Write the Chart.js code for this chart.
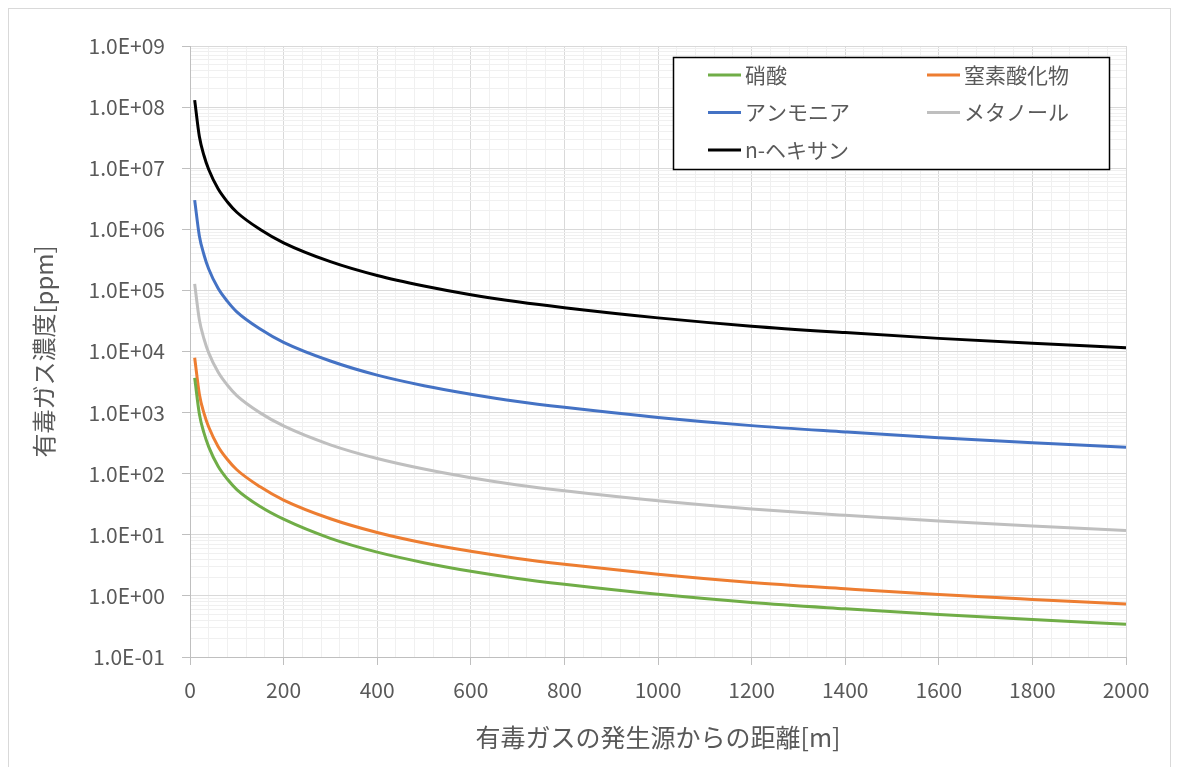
<!DOCTYPE html>
<html>
<head>
<meta charset="utf-8">
<script src="https://cdn.jsdelivr.net/npm/chart.js@4.4.0/dist/chart.umd.min.js"></script>
<style>
  html, body { margin: 0; padding: 0; background: #fff; }
  #main { width: 1179px; height: 767px; position: relative; }
</style>
</head>
<body>
<div id="main"><canvas id="myChart" width="1179" height="767"></canvas></div>
<script>
// distance from source [m]
var distance = [10, 20, 30, 40, 60, 80, 100, 150, 200, 300, 400, 500, 600, 700, 800, 1000, 1200, 1400, 1600, 1800, 2000];

// concentrations [ppm]
var nitricAcid = [3700, 950, 460, 275, 132, 81, 55, 29, 18, 8.75, 5.2, 3.5, 2.53, 1.93, 1.55, 1.06, 0.78, 0.615, 0.495, 0.41, 0.345];
var nitrogenOx = [7900, 2000, 970, 580, 280, 171, 116, 61, 37, 18.3, 10.9, 7.33, 5.36, 4.1, 3.3, 2.27, 1.66, 1.31, 1.05, 0.875, 0.74];
var ammonia    = [3.0e6, 7.8e5, 3.8e5, 2.24e5, 1.08e5, 6.6e4, 4.45e4, 2.33e4, 1.41e4, 6980, 4100, 2755, 2000, 1520, 1220, 835, 612, 482, 386, 320, 271];
var methanol   = [1.28e5, 3.3e4, 1.6e4, 9500, 4600, 2800, 1900, 990, 605, 297, 177, 119, 86, 65.5, 52.5, 36, 26.5, 20.8, 16.8, 13.9, 11.8];
var hexane     = [1.3e8, 3.3e7, 1.6e7, 9.5e6, 4.6e6, 2.8e6, 1.9e6, 9.9e5, 6.0e5, 2.95e5, 1.75e5, 1.18e5, 8.5e4, 6.5e4, 5.2e4, 3.55e4, 2.6e4, 2.04e4, 1.64e4, 1.36e4, 1.15e4];

var seriesNames  = ['硝酸', '窒素酸化物', 'アンモニア', 'メタノール', 'n-ヘキサン'];
var seriesColors = ['#70ad47', '#ed7d31', '#4472c4', '#bfbfbf', '#000000'];
var seriesValues = [nitricAcid, nitrogenOx, ammonia, methanol, hexane];

var xTickLabels = [0, 200, 400, 600, 800, 1000, 1200, 1400, 1600, 1800, 2000];
var xMinorStep = 40;
var yTickLabels = ['1.0E-01', '1.0E+00', '1.0E+01', '1.0E+02', '1.0E+03', '1.0E+04', '1.0E+05', '1.0E+06', '1.0E+07', '1.0E+08', '1.0E+09'];

var xTitle = '有毒ガスの発生源からの距離[m]';
var yTitle = '有毒ガス濃度[ppm]';

var FONT = '"Noto Sans CJK JP", "Noto Sans", sans-serif';
var TEXT = '#595959';

function isDecade(v) {
    var e = Math.log10(v);
    return Math.abs(e - Math.round(e)) < 1e-9;
}

var datasets = seriesNames.map(function(name, i) {
    return {
        label: name,
        data: distance.map(function(d, j) { return {x: d, y: seriesValues[i][j]}; }),
        borderColor: seriesColors[i],
        backgroundColor: seriesColors[i],
        borderWidth: 3,
        pointRadius: 0,
        fill: false,
        cubicInterpolationMode: 'monotone'
    };
});

// legend box + outer frame
var boxLegend = {
    id: 'boxLegend',
    beforeDraw: function(chart) {
        var c = chart.ctx;
        c.save();
        c.fillStyle = '#fff';
        c.fillRect(0, 0, chart.width, chart.height);
        c.strokeStyle = '#d9d9d9';
        c.lineWidth = 1;
        c.strokeRect(8.5, 8.5, 1162, 800);
        c.restore();
    },
    afterDraw: function(chart) {
        var c = chart.ctx, ca = chart.chartArea;
        var bx = ca.left + 483, by = ca.top + 11, bw = 436, bh = 112;
        c.save();
        c.fillStyle = '#fff';
        c.fillRect(bx, by, bw, bh);
        c.strokeStyle = '#000';
        c.lineWidth = 1.5;
        c.strokeRect(bx + 0.5, by + 0.5, bw, bh);
        c.font = '21px ' + FONT;
        c.textBaseline = 'middle';
        c.fillStyle = TEXT;
        chart.data.datasets.forEach(function(ds, i) {
            var col = i % 2, row = Math.floor(i / 2);
            var lx = bx + 35 + col * 219;
            var ly = by + 18 + row * 37.5;
            c.strokeStyle = ds.borderColor;
            c.lineWidth = 3;
            c.beginPath();
            c.moveTo(lx, ly);
            c.lineTo(lx + 33, ly);
            c.stroke();
            c.fillText(ds.label, lx + 37, ly);
        });
        c.restore();
    }
};

var ctx = document.getElementById('myChart');
var myChart = new Chart(ctx, {
    type: 'line',
    data: { datasets: datasets },
    plugins: [boxLegend],
    options: {
        responsive: false,
        animation: false,
        devicePixelRatio: 1,
        layout: { padding: { left: 0, top: 46, right: 53, bottom: 0 } },
        plugins: { legend: { display: false }, tooltip: { enabled: false } },
        scales: {
            x: {
                type: 'linear',
                min: 0,
                max: 2000,
                afterBuildTicks: function(scale) {
                    var t = [];
                    for (var v = 0; v <= 2000; v += xMinorStep) t.push({value: v});
                    scale.ticks = t;
                },
                afterFit: function(scale) { scale.height = 110; },
                ticks: {
                    autoSkip: false,
                    maxRotation: 0,
                    padding: 12,
                    color: TEXT,
                    font: { family: FONT, size: 21 },
                    callback: function(v) { return xTickLabels.indexOf(v) >= 0 ? String(v) : ''; }
                },
                grid: {
                    color: function(c) { return c.tick && xTickLabels.indexOf(c.tick.value) >= 0 ? '#d9d9d9' : '#f0f0f0'; },
                    tickColor: function(c) { return c.tick && xTickLabels.indexOf(c.tick.value) >= 0 ? '#bfbfbf' : 'rgba(0,0,0,0)'; },
                    tickLength: 8
                },
                border: { color: '#bfbfbf', width: 1 },
                title: {
                    display: true,
                    text: xTitle,
                    color: TEXT,
                    font: { family: FONT, size: 25 },
                    padding: { top: 0, bottom: 15 }
                }
            },
            y: {
                type: 'logarithmic',
                min: 0.1,
                max: 1e9,
                afterBuildTicks: function(scale) {
                    var t = [];
                    for (var e = -1; e < 9; e++) {
                        for (var s = 1; s <= 9; s++) {
                            t.push({value: Number((s * Math.pow(10, e)).toPrecision(3))});
                        }
                    }
                    t.push({value: 1e9});
                    scale.ticks = t;
                },
                afterFit: function(scale) { scale.width = 190; },
                ticks: {
                    autoSkip: false,
                    padding: 17,
                    color: TEXT,
                    font: { family: FONT, size: 21 },
                    callback: function(v) {
                        if (!isDecade(v)) return '';
                        return yTickLabels[Math.round(Math.log10(v)) + 1];
                    }
                },
                grid: {
                    color: function(c) { return c.tick && isDecade(c.tick.value) ? '#d9d9d9' : '#f0f0f0'; },
                    tickColor: function(c) { return c.tick && isDecade(c.tick.value) ? '#bfbfbf' : 'rgba(0,0,0,0)'; },
                    tickLength: 8
                },
                border: { color: '#bfbfbf', width: 1 },
                title: {
                    display: true,
                    text: yTitle,
                    color: TEXT,
                    font: { family: FONT, size: 24 },
                    padding: { top: 29, bottom: 0 }
                }
            }
        }
    }
});
</script>
</body>
</html>
